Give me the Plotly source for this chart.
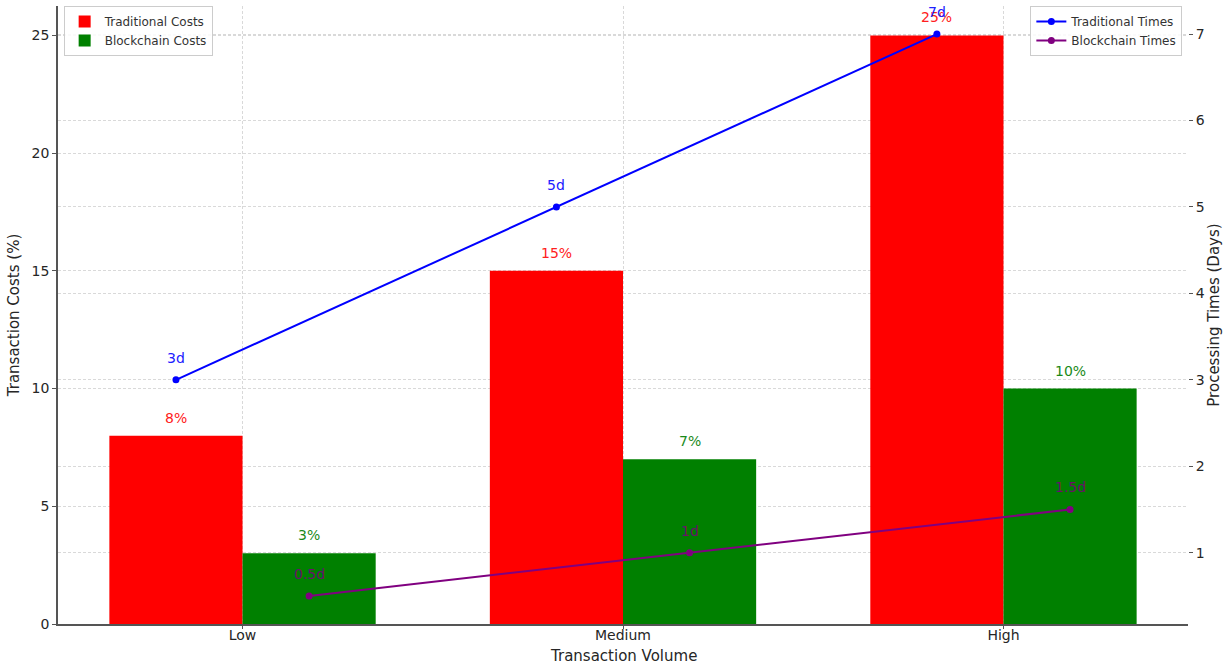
import plotly.graph_objects as go

categories = ["Low", "Medium", "High"]
traditional_costs = [8, 15, 25]
blockchain_costs = [3, 7, 10]
traditional_times = [3, 5, 7]
blockchain_times = [0.5, 1, 1.5]
cost_labels_trad = ["8%", "15%", "25%"]
cost_labels_block = ["3%", "7%", "10%"]
time_labels_trad = ["3d", "5d", "7d"]
time_labels_block = ["0.5d", "1d", "1.5d"]

bar_w = 0.35
idx = list(range(len(categories)))
x_trad = [i - bar_w / 2 for i in idx]
x_block = [i + bar_w / 2 for i in idx]

FONT = "DejaVu Sans"
fig = go.Figure()
fig.add_trace(go.Bar(x=idx, y=traditional_costs, width=bar_w, offset=-bar_w,
                     marker=dict(color="red", line=dict(width=0)),
                     name="Traditional Costs", legend="legend"))
fig.add_trace(go.Bar(x=idx, y=blockchain_costs, width=bar_w, offset=0,
                     marker=dict(color="green", line=dict(width=0)),
                     name="Blockchain Costs", legend="legend"))
fig.add_trace(go.Scatter(x=x_trad, y=traditional_times, yaxis="y2", mode="lines+markers",
                         line=dict(color="blue", width=2), marker=dict(size=7, color="blue"),
                         name="Traditional Times", legend="legend2", cliponaxis=False))
fig.add_trace(go.Scatter(x=x_block, y=blockchain_times, yaxis="y2", mode="lines+markers",
                         line=dict(color="purple", width=2), marker=dict(size=7, color="purple"),
                         name="Blockchain Times", legend="legend2", cliponaxis=False))

ann = []
for xs, ys, labs, col, yref, sh in [
    (x_trad, traditional_costs, cost_labels_trad, "#ff2020", "y", 8),
    (x_block, blockchain_costs, cost_labels_block, "#1a8a1a", "y", 8),
    (x_trad, traditional_times, time_labels_trad, "#2020ff", "y2", 12),
    (x_block, blockchain_times, time_labels_block, "#6a106a", "y2", 12),
]:
    for xv, yv, t in zip(xs, ys, labs):
        ann.append(dict(x=xv, y=yv, xref="x", yref=yref, text=t, showarrow=False,
                        yanchor="bottom", yshift=sh, font=dict(family=FONT, size=14, color=col)))
ann.append(dict(x=0.5, y=0, xref="paper", yref="paper", text="Transaction Volume",
                showarrow=False, yanchor="top", yshift=-21,
                font=dict(family=FONT, size=15, color="#262626")))

grid = dict(showgrid=True, gridcolor="#d9d9d9", griddash="3px,2px", gridwidth=1)
fig.update_layout(
    width=1223, height=665,
    margin=dict(l=58, r=35, t=6, b=41),
    plot_bgcolor="white", paper_bgcolor="white",
    font=dict(family=FONT, size=14, color="#262626"),
    barmode="overlay",
    annotations=ann,
    xaxis=dict(range=[-0.485, 2.485], tickmode="array", tickvals=idx, ticktext=categories,
               showline=True, linecolor="#555", linewidth=1.5, ticks="outside", ticklen=3,
               tickcolor="#555", zeroline=False, automargin=False, ticklabelstandoff=-6,
               **grid),
    yaxis=dict(range=[0, 26.25], tickvals=[0, 5, 10, 15, 20, 25], showline=True,
               linecolor="#555", linewidth=1.5, ticks="outside", ticklen=4, tickcolor="#555",
               zeroline=False, automargin=False,
               title=dict(text="Transaction Costs (%)", font=dict(size=15), standoff=8), **grid),
    yaxis2=dict(range=[0.175, 7.325], tickvals=[1, 2, 3, 4, 5, 6, 7], overlaying="y",
                side="right", showline=False, ticks="outside", ticklen=4, tickcolor="#555",
                zeroline=False, automargin=False,
                title=dict(text="Processing Times (Days)", font=dict(size=15), standoff=6), **grid),
    legend=dict(x=0.005, y=1.0, xanchor="left", yanchor="top", bgcolor="rgba(255,255,255,0.85)",
                bordercolor="#ccc", borderwidth=1, font=dict(size=12, color="#333"),
                tracegroupgap=0, itemwidth=30),
    legend2=dict(x=0.995, y=1.0, xanchor="right", yanchor="top", bgcolor="rgba(255,255,255,0.85)",
                 bordercolor="#ccc", borderwidth=1, font=dict(size=12, color="#333"),
                 tracegroupgap=0, itemwidth=30),
)
fig.write_html("out.html")
